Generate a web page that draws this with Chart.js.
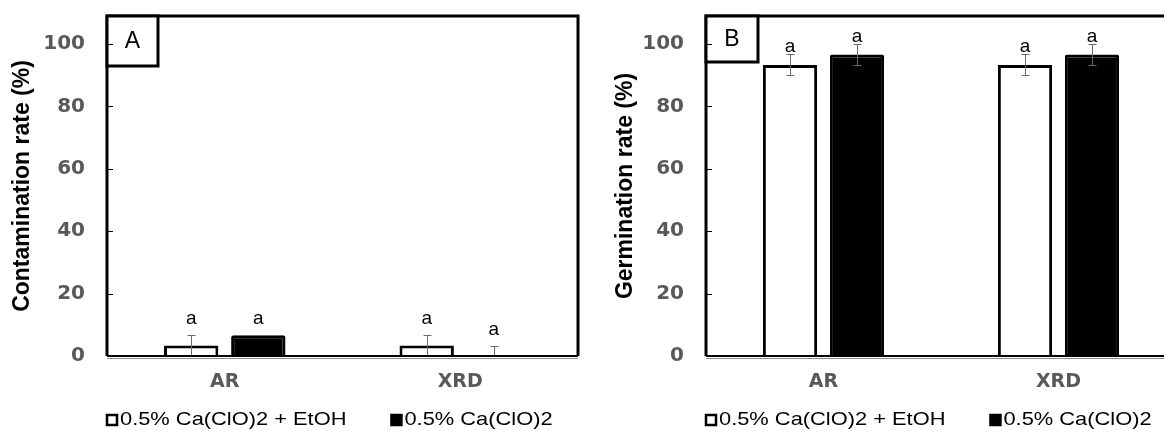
<!DOCTYPE html>
<html>
<head>
<meta charset="utf-8">
<script src="https://cdn.jsdelivr.net/npm/chart.js@4.4.1/dist/chart.umd.min.js"></script>
<style>
  html, body { margin: 0; padding: 0; background: #fff; overflow: hidden; }
  #wrapA { position: absolute; left: 0; top: 0; width: 582px; height: 431px; }
  /* panel B is cut off on the right in the original figure */
  #wrapB { position: absolute; left: 582px; top: 0; width: 582px; height: 431px; overflow: hidden; }
</style>
</head>
<body>
<div id="wrapA"><canvas id="chartA" width="582" height="431"></canvas></div>
<div id="wrapB"><canvas id="chartB" width="840" height="431"></canvas></div>
<script>
const categories = ['AR', 'XRD'];
const seriesNames = ['0.5% Ca(ClO)2 + EtOH', '0.5% Ca(ClO)2'];
const yTicks = [0, 20, 40, 60, 80, 100];

// A - contamination rate (%)
const contamEtOH = [3.33, 3.33];
const contamCa = [6.67, 0];
const contamEtOHErr = [3.33, 3.33];
const contamCaErr = [0, 3.33];
const contamLetters = [['a', 'a'], ['a', 'a']];

// B - germination rate (%)
const germEtOH = [93.33, 93.33];
const germCa = [96.67, 96.67];
const germEtOHErr = [3.33, 3.33];
const germCaErr = [3.33, 3.33];
const germLetters = [['a', 'a'], ['a', 'a']];

const FONT = '"Liberation Sans", Arial, sans-serif';
const TICK_FONT = '"DejaVu Sans", "Liberation Sans", sans-serif';
Chart.defaults.font.family = FONT;

// error bars, significance letters, frame, panel tag and legend
const deco = {
  id: 'deco',
  afterDatasetsDraw(chart, args, opts) {
    const { ctx, scales: { y } } = chart;
    ctx.save();
    chart.data.datasets.forEach((ds, di) => {
      chart.getDatasetMeta(di).data.forEach((bar, i) => {
        const v = ds.data[i], e = opts.errors[di][i];
        const x = Math.round(bar.x) + 0.5;
        const yt = Math.round(y.getPixelForValue(v + e)) + 0.5;
        const yb = Math.round(y.getPixelForValue(Math.max(0, v - e))) + 0.5;
        ctx.strokeStyle = '#6b6b6b';
        ctx.lineWidth = 1;
        ctx.beginPath();
        ctx.moveTo(x, yt); ctx.lineTo(x, yb);
        ctx.moveTo(x - 4, yt); ctx.lineTo(x + 4, yt);
        if (v - e > 0) { ctx.moveTo(x - 4, yb); ctx.lineTo(x + 4, yb); }
        ctx.stroke();
        ctx.fillStyle = '#000';
        ctx.font = '19px ' + FONT;
        ctx.textAlign = 'center';
        ctx.textBaseline = 'middle';
        ctx.fillText(opts.letters[di][i], bar.x, yt - opts.letterGap);
      });
    });
    ctx.restore();
  },
  afterDraw(chart, args, opts) {
    const { ctx, chartArea: a, scales: { y } } = chart;
    ctx.save();
    // frame
    ctx.strokeStyle = '#000';
    ctx.lineWidth = 3;
    ctx.beginPath();
    ctx.moveTo(a.left, a.bottom); ctx.lineTo(a.left, a.top);
    ctx.lineTo(a.right, a.top); ctx.lineTo(a.right, a.bottom);
    ctx.stroke();
    ctx.lineWidth = 2;
    ctx.beginPath(); ctx.moveTo(a.left, a.bottom); ctx.lineTo(a.right, a.bottom); ctx.stroke();
    ctx.strokeStyle = '#8c8c8c';
    ctx.lineWidth = 1;
    ctx.beginPath(); ctx.moveTo(a.left, a.bottom + 2.5); ctx.lineTo(a.right, a.bottom + 2.5); ctx.stroke();

    // panel tag box
    ctx.fillStyle = '#fff';
    ctx.fillRect(a.left, a.top, opts.tagW, opts.tagH);
    ctx.strokeStyle = '#000';
    ctx.lineWidth = 3;
    ctx.strokeRect(a.left, a.top, opts.tagW, opts.tagH);
    ctx.fillStyle = '#000';
    ctx.font = '23px ' + FONT;
    ctx.textAlign = 'center';
    ctx.textBaseline = 'middle';
    ctx.fillText(opts.tag, a.left + opts.tagW / 2, a.top + opts.tagH / 2 + 1);

    // tick marks inside the frame
    ctx.lineWidth = 1;
    ctx.beginPath();
    y.ticks.forEach(t => {
      const py = Math.round(y.getPixelForValue(t.value)) + 0.5;
      ctx.moveTo(a.left, py); ctx.lineTo(a.left + 6, py);
    });
    ctx.stroke();

    // legend (text is a little wider than plain Arial in the figure)
    const sx = 1.15;
    let lx = Math.round(a.left) - 1;
    const ly = chart.height - 11;
    ctx.font = '19px ' + FONT;
    ctx.textAlign = 'left';
    chart.data.datasets.forEach(ds => {
      ctx.fillStyle = ds.backgroundColor;
      ctx.fillRect(lx + 1, ly - 5, 10, 10);
      ctx.strokeStyle = '#000';
      ctx.lineWidth = 2.5;
      ctx.strokeRect(lx + 1, ly - 5, 10, 10);
      ctx.fillStyle = '#000';
      ctx.save();
      ctx.translate(lx + 14, ly);
      ctx.scale(sx, 1);
      ctx.fillText(ds.label, 0, 0);
      ctx.restore();
      lx += 14 + ctx.measureText(ds.label).width * sx + 44;
    });
    ctx.restore();
  }
};

function makeChart(id, cfg) {
  return new Chart(document.getElementById(id), {
    type: 'bar',
    data: {
      labels: cfg.labels,
      datasets: [
        { label: seriesNames[0], data: cfg.white, backgroundColor: '#ffffff', borderColor: '#000000', borderWidth: 3 },
        { label: seriesNames[1], data: cfg.black, backgroundColor: '#000000', borderColor: '#000000', borderWidth: 3, borderRadius: 2 }
      ]
    },
    plugins: [deco],
    options: {
      responsive: false,
      animation: false,
      categoryPercentage: 0.57,
      barPercentage: 0.81,
      layout: { padding: { top: 16, left: 0, right: cfg.padRight, bottom: 0 } },
      plugins: {
        legend: { display: false },
        tooltip: { enabled: false },
        deco: { errors: cfg.errors, letters: cfg.letters, letterGap: cfg.letterGap, tag: cfg.tag, tagW: cfg.tagW, tagH: cfg.tagH }
      },
      scales: {
        x: {
          grid: { display: false, drawTicks: false },
          border: { display: false },
          ticks: { color: '#595959', font: { family: TICK_FONT, size: 19, weight: 'bold' }, padding: 15 },
          afterFit: s => { s.height = 75; }
        },
        y: {
          min: 0,
          max: 109,
          grid: { display: false, drawTicks: true, tickLength: 22 },
          border: { display: false },
          ticks: { color: '#595959', font: { family: TICK_FONT, size: 20, weight: 'bold' }, padding: 0 },
          afterBuildTicks: s => { s.ticks = yTicks.map(v => ({ value: v })); },
          title: { display: true, text: cfg.yTitle, color: '#000', font: { size: 23, weight: 'bold' }, padding: { top: cfg.titlePad, bottom: 0 } },
          afterFit: s => { s.width = cfg.plotLeft; s.paddingTop = 0; s.paddingBottom = 0; }
        }
      }
    }
  });
}

makeChart('chartA', {
  labels: categories,
  white: contamEtOH, black: contamCa,
  errors: [contamEtOHErr, contamCaErr],
  letters: contamLetters, letterGap: 17,
  yTitle: 'Contamination rate (%)',
  tag: 'A', tagW: 51, tagH: 50,
  plotLeft: 107, padRight: 4, titlePad: 9
});

// panel B continues past the right edge, so an empty slot keeps the category width
makeChart('chartB', {
  labels: [...categories, ''],
  white: germEtOH, black: germCa,
  errors: [germEtOHErr, germCaErr],
  letters: germLetters, letterGap: 8,
  yTitle: 'Germination rate (%)',
  tag: 'B', tagW: 52, tagH: 46,
  plotLeft: 124, padRight: 11, titlePad: 30
});
</script>
</body>
</html>
